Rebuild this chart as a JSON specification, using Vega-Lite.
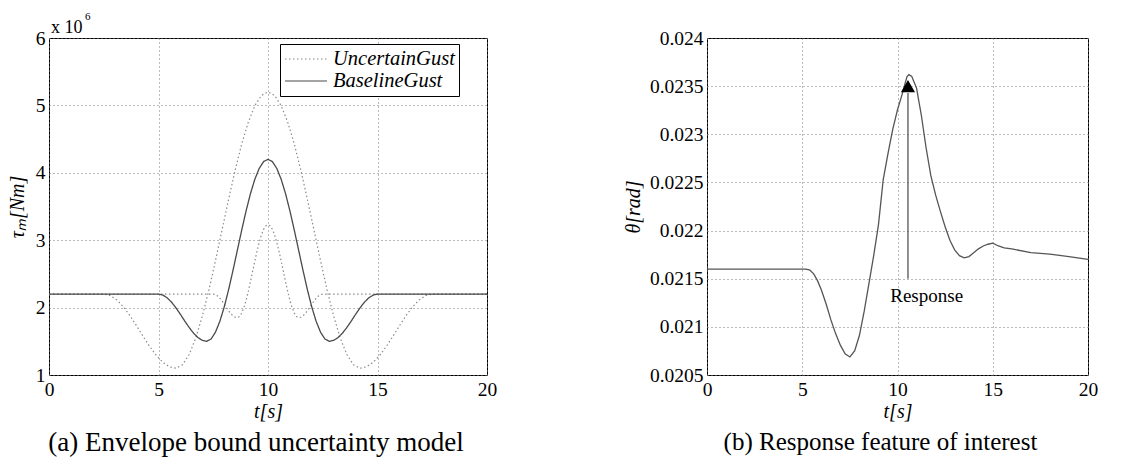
{
  "$schema": "https://vega.github.io/schema/vega-lite/v6.json",
  "background": "white",
  "padding": {"left": 6, "top": 10, "right": 5, "bottom": 5},
  "bounds": "flush",
  "spacing": 220,
  "config": {
    "font": "Liberation Serif",
    "view": {"stroke": "black", "strokeWidth": 1},
    "title": {"font": "Liberation Serif", "fontSize": 26, "fontWeight": "normal", "color": "black", "orient": "bottom", "anchor": "middle"}
  },
  "hconcat": [
    {
      "width": 438,
      "height": 337,
      "title": {"text": "(a) Envelope bound uncertainty model", "orient": "bottom", "offset": 8, "dx": -12, "font": "Liberation Serif", "fontSize": 27, "fontWeight": "normal"},
      "layer": [
        {
          "data": {"values": [
            {"t":0,"v":2.2,"s":"UncertainGust","c":"wide"},{"t":2.5,"v":2.2,"s":"UncertainGust","c":"wide"},{"t":2.8,"v":2.178,"s":"UncertainGust","c":"wide"},{"t":3.1,"v":2.113,"s":"UncertainGust","c":"wide"},{"t":3.4,"v":2.01,"s":"UncertainGust","c":"wide"},{"t":3.7,"v":1.879,"s":"UncertainGust","c":"wide"},{"t":4.0,"v":1.729,"s":"UncertainGust","c":"wide"},{"t":4.3,"v":1.571,"s":"UncertainGust","c":"wide"},{"t":4.6,"v":1.422,"s":"UncertainGust","c":"wide"},{"t":4.9,"v":1.29,"s":"UncertainGust","c":"wide"},{"t":5.2,"v":1.188,"s":"UncertainGust","c":"wide"},{"t":5.5,"v":1.122,"s":"UncertainGust","c":"wide"},{"t":5.8,"v":1.1,"s":"UncertainGust","c":"wide"},{"t":6.1,"v":1.152,"s":"UncertainGust","c":"wide"},{"t":6.4,"v":1.303,"s":"UncertainGust","c":"wide"},{"t":6.7,"v":1.548,"s":"UncertainGust","c":"wide"},{"t":7.0,"v":1.871,"s":"UncertainGust","c":"wide"},{"t":7.3,"v":2.26,"s":"UncertainGust","c":"wide"},{"t":7.6,"v":2.694,"s":"UncertainGust","c":"wide"},{"t":7.9,"v":3.15,"s":"UncertainGust","c":"wide"},{"t":8.2,"v":3.605,"s":"UncertainGust","c":"wide"},{"t":8.5,"v":4.04,"s":"UncertainGust","c":"wide"},{"t":8.8,"v":4.429,"s":"UncertainGust","c":"wide"},{"t":9.1,"v":4.752,"s":"UncertainGust","c":"wide"},{"t":9.4,"v":4.996,"s":"UncertainGust","c":"wide"},{"t":9.7,"v":5.148,"s":"UncertainGust","c":"wide"},{"t":10,"v":5.2,"s":"UncertainGust","c":"wide"},{"t":10.3,"v":5.148,"s":"UncertainGust","c":"wide"},{"t":10.6,"v":4.996,"s":"UncertainGust","c":"wide"},{"t":10.9,"v":4.752,"s":"UncertainGust","c":"wide"},{"t":11.2,"v":4.429,"s":"UncertainGust","c":"wide"},{"t":11.5,"v":4.04,"s":"UncertainGust","c":"wide"},{"t":11.8,"v":3.605,"s":"UncertainGust","c":"wide"},{"t":12.1,"v":3.15,"s":"UncertainGust","c":"wide"},{"t":12.4,"v":2.694,"s":"UncertainGust","c":"wide"},{"t":12.7,"v":2.26,"s":"UncertainGust","c":"wide"},{"t":13.0,"v":1.871,"s":"UncertainGust","c":"wide"},{"t":13.3,"v":1.548,"s":"UncertainGust","c":"wide"},{"t":13.6,"v":1.303,"s":"UncertainGust","c":"wide"},{"t":13.9,"v":1.152,"s":"UncertainGust","c":"wide"},{"t":14.2,"v":1.1,"s":"UncertainGust","c":"wide"},{"t":14.5,"v":1.122,"s":"UncertainGust","c":"wide"},{"t":14.8,"v":1.188,"s":"UncertainGust","c":"wide"},{"t":15.1,"v":1.29,"s":"UncertainGust","c":"wide"},{"t":15.4,"v":1.422,"s":"UncertainGust","c":"wide"},{"t":15.7,"v":1.571,"s":"UncertainGust","c":"wide"},{"t":16.0,"v":1.729,"s":"UncertainGust","c":"wide"},{"t":16.3,"v":1.879,"s":"UncertainGust","c":"wide"},{"t":16.6,"v":2.01,"s":"UncertainGust","c":"wide"},{"t":16.9,"v":2.113,"s":"UncertainGust","c":"wide"},{"t":17.2,"v":2.178,"s":"UncertainGust","c":"wide"},{"t":17.5,"v":2.2,"s":"UncertainGust","c":"wide"},{"t":20,"v":2.2,"s":"UncertainGust","c":"wide"},
            {"t":0,"v":2.2,"s":"UncertainGust","c":"narrow"},{"t":7.5,"v":2.2,"s":"UncertainGust","c":"narrow"},{"t":7.6,"v":2.193,"s":"UncertainGust","c":"narrow"},{"t":7.7,"v":2.172,"s":"UncertainGust","c":"narrow"},{"t":7.8,"v":2.14,"s":"UncertainGust","c":"narrow"},{"t":7.9,"v":2.098,"s":"UncertainGust","c":"narrow"},{"t":8.0,"v":2.05,"s":"UncertainGust","c":"narrow"},{"t":8.1,"v":2.0,"s":"UncertainGust","c":"narrow"},{"t":8.2,"v":1.953,"s":"UncertainGust","c":"narrow"},{"t":8.3,"v":1.911,"s":"UncertainGust","c":"narrow"},{"t":8.4,"v":1.878,"s":"UncertainGust","c":"narrow"},{"t":8.5,"v":1.857,"s":"UncertainGust","c":"narrow"},{"t":8.6,"v":1.85,"s":"UncertainGust","c":"narrow"},{"t":8.7,"v":1.867,"s":"UncertainGust","c":"narrow"},{"t":8.8,"v":1.918,"s":"UncertainGust","c":"narrow"},{"t":8.9,"v":2.001,"s":"UncertainGust","c":"narrow"},{"t":9.0,"v":2.11,"s":"UncertainGust","c":"narrow"},{"t":9.1,"v":2.24,"s":"UncertainGust","c":"narrow"},{"t":9.2,"v":2.387,"s":"UncertainGust","c":"narrow"},{"t":9.3,"v":2.54,"s":"UncertainGust","c":"narrow"},{"t":9.4,"v":2.693,"s":"UncertainGust","c":"narrow"},{"t":9.5,"v":2.839,"s":"UncertainGust","c":"narrow"},{"t":9.6,"v":2.97,"s":"UncertainGust","c":"narrow"},{"t":9.7,"v":3.079,"s":"UncertainGust","c":"narrow"},{"t":9.8,"v":3.161,"s":"UncertainGust","c":"narrow"},{"t":9.9,"v":3.213,"s":"UncertainGust","c":"narrow"},{"t":10,"v":3.23,"s":"UncertainGust","c":"narrow"},{"t":10.1,"v":3.213,"s":"UncertainGust","c":"narrow"},{"t":10.2,"v":3.161,"s":"UncertainGust","c":"narrow"},{"t":10.3,"v":3.079,"s":"UncertainGust","c":"narrow"},{"t":10.4,"v":2.97,"s":"UncertainGust","c":"narrow"},{"t":10.5,"v":2.839,"s":"UncertainGust","c":"narrow"},{"t":10.6,"v":2.693,"s":"UncertainGust","c":"narrow"},{"t":10.7,"v":2.54,"s":"UncertainGust","c":"narrow"},{"t":10.8,"v":2.387,"s":"UncertainGust","c":"narrow"},{"t":10.9,"v":2.24,"s":"UncertainGust","c":"narrow"},{"t":11.0,"v":2.11,"s":"UncertainGust","c":"narrow"},{"t":11.1,"v":2.001,"s":"UncertainGust","c":"narrow"},{"t":11.2,"v":1.918,"s":"UncertainGust","c":"narrow"},{"t":11.3,"v":1.867,"s":"UncertainGust","c":"narrow"},{"t":11.4,"v":1.85,"s":"UncertainGust","c":"narrow"},{"t":11.5,"v":1.857,"s":"UncertainGust","c":"narrow"},{"t":11.6,"v":1.878,"s":"UncertainGust","c":"narrow"},{"t":11.7,"v":1.911,"s":"UncertainGust","c":"narrow"},{"t":11.8,"v":1.953,"s":"UncertainGust","c":"narrow"},{"t":11.9,"v":2.0,"s":"UncertainGust","c":"narrow"},{"t":12.0,"v":2.05,"s":"UncertainGust","c":"narrow"},{"t":12.1,"v":2.098,"s":"UncertainGust","c":"narrow"},{"t":12.2,"v":2.14,"s":"UncertainGust","c":"narrow"},{"t":12.3,"v":2.172,"s":"UncertainGust","c":"narrow"},{"t":12.4,"v":2.193,"s":"UncertainGust","c":"narrow"},{"t":12.5,"v":2.2,"s":"UncertainGust","c":"narrow"},{"t":20,"v":2.2,"s":"UncertainGust","c":"narrow"}
          ]},
          "mark": {"type": "line", "strokeWidth": 1.2},
          "encoding": {
            "x": {"field": "t", "type": "quantitative", "scale": {"domain": [0, 20], "nice": false},
              "axis": {"values": [0, 5, 10, 15, 20], "format": "d", "title": "t[s]", "labelFlush": false, "labelFont": "Liberation Serif", "labelFontSize": 19.5, "labelColor": "black", "labelPadding": 5, "titleFont": "Liberation Serif", "titleFontSize": 20, "titleFontStyle": "italic", "titleFontWeight": "normal", "titleColor": "black", "titlePadding": 3, "domain": false, "ticks": false, "grid": true, "gridColor": "#777", "gridDash": [1, 3], "gridWidth": 1, "gridOpacity": 1}},
            "y": {"field": "v", "type": "quantitative", "scale": {"domain": [1, 6], "nice": false, "zero": false},
              "axis": {"values": [1, 2, 3, 4, 5, 6], "format": "d", "title": "τₘ[Nm]", "labelFont": "Liberation Serif", "labelFontSize": 19.5, "labelColor": "black", "labelPadding": 4, "titleFont": "Liberation Serif", "titleFontSize": 20, "titleFontStyle": "italic", "titleFontWeight": "normal", "titleColor": "black", "titlePadding": 8, "domain": false, "ticks": false, "grid": true, "gridColor": "#777", "gridDash": [1, 3], "gridWidth": 1, "gridOpacity": 1}},
            "detail": {"field": "c"},
            "color": {"field": "s", "type": "nominal", "scale": {"domain": ["UncertainGust", "BaselineGust"], "range": ["#8a8a8a", "#4a4a4a"]},
              "legend": {"orient": "none", "legendX": 231, "legendY": 6, "title": null, "strokeColor": "black", "fillColor": "white", "padding": 4, "symbolType": "M-1,0H3.2", "symbolSize": 400, "symbolStrokeWidth": 1.2, "labelFont": "Liberation Serif", "labelFontSize": 20.5, "labelFontStyle": "italic", "labelColor": "black", "labelOffset": 27, "rowPadding": -1}},
            "strokeDash": {"field": "s", "type": "nominal", "scale": {"domain": ["UncertainGust", "BaselineGust"], "range": [[1.5, 2.5], [1, 0]]}, "legend": null}
          }
        },
        {
          "data": {"values": [
            {"t":0,"v":2.2,"s":"BaselineGust"},{"t":5,"v":2.2,"s":"BaselineGust"},{"t":5.2,"v":2.186,"s":"BaselineGust"},{"t":5.4,"v":2.144,"s":"BaselineGust"},{"t":5.6,"v":2.079,"s":"BaselineGust"},{"t":5.8,"v":1.995,"s":"BaselineGust"},{"t":6.0,"v":1.9,"s":"BaselineGust"},{"t":6.2,"v":1.8,"s":"BaselineGust"},{"t":6.4,"v":1.705,"s":"BaselineGust"},{"t":6.6,"v":1.621,"s":"BaselineGust"},{"t":6.8,"v":1.556,"s":"BaselineGust"},{"t":7.0,"v":1.514,"s":"BaselineGust"},{"t":7.2,"v":1.5,"s":"BaselineGust"},{"t":7.4,"v":1.534,"s":"BaselineGust"},{"t":7.6,"v":1.634,"s":"BaselineGust"},{"t":7.8,"v":1.795,"s":"BaselineGust"},{"t":8.0,"v":2.008,"s":"BaselineGust"},{"t":8.2,"v":2.264,"s":"BaselineGust"},{"t":8.4,"v":2.55,"s":"BaselineGust"},{"t":8.6,"v":2.85,"s":"BaselineGust"},{"t":8.8,"v":3.15,"s":"BaselineGust"},{"t":9.0,"v":3.436,"s":"BaselineGust"},{"t":9.2,"v":3.692,"s":"BaselineGust"},{"t":9.4,"v":3.905,"s":"BaselineGust"},{"t":9.6,"v":4.066,"s":"BaselineGust"},{"t":9.8,"v":4.166,"s":"BaselineGust"},{"t":10,"v":4.2,"s":"BaselineGust"},{"t":10.2,"v":4.166,"s":"BaselineGust"},{"t":10.4,"v":4.066,"s":"BaselineGust"},{"t":10.6,"v":3.905,"s":"BaselineGust"},{"t":10.8,"v":3.692,"s":"BaselineGust"},{"t":11.0,"v":3.436,"s":"BaselineGust"},{"t":11.2,"v":3.15,"s":"BaselineGust"},{"t":11.4,"v":2.85,"s":"BaselineGust"},{"t":11.6,"v":2.55,"s":"BaselineGust"},{"t":11.8,"v":2.264,"s":"BaselineGust"},{"t":12.0,"v":2.008,"s":"BaselineGust"},{"t":12.2,"v":1.795,"s":"BaselineGust"},{"t":12.4,"v":1.634,"s":"BaselineGust"},{"t":12.6,"v":1.534,"s":"BaselineGust"},{"t":12.8,"v":1.5,"s":"BaselineGust"},{"t":13.0,"v":1.514,"s":"BaselineGust"},{"t":13.2,"v":1.556,"s":"BaselineGust"},{"t":13.4,"v":1.621,"s":"BaselineGust"},{"t":13.6,"v":1.705,"s":"BaselineGust"},{"t":13.8,"v":1.8,"s":"BaselineGust"},{"t":14.0,"v":1.9,"s":"BaselineGust"},{"t":14.2,"v":1.995,"s":"BaselineGust"},{"t":14.4,"v":2.079,"s":"BaselineGust"},{"t":14.6,"v":2.144,"s":"BaselineGust"},{"t":14.8,"v":2.186,"s":"BaselineGust"},{"t":15,"v":2.2,"s":"BaselineGust"},{"t":20,"v":2.2,"s":"BaselineGust"}
          ]},
          "mark": {"type": "line", "strokeWidth": 1.3},
          "encoding": {
            "x": {"field": "t", "type": "quantitative"},
            "y": {"field": "v", "type": "quantitative"},
            "color": {"field": "s", "type": "nominal"},
            "strokeDash": {"field": "s", "type": "nominal"}
          }
        },
        {
          "data": {"values": [{"t": 0, "v": 6, "label": "x 10"}]},
          "mark": {"type": "text", "align": "left", "baseline": "alphabetic", "dx": 2, "dy": -5, "fontSize": 18, "font": "Liberation Serif", "color": "black"},
          "encoding": {"x": {"field": "t", "type": "quantitative"}, "y": {"field": "v", "type": "quantitative"}, "text": {"field": "label"}}
        },
        {
          "data": {"values": [{"t": 0, "v": 6, "label": "6"}]},
          "mark": {"type": "text", "align": "left", "baseline": "alphabetic", "dx": 36, "dy": -18, "fontSize": 11, "font": "Liberation Serif", "color": "black"},
          "encoding": {"x": {"field": "t", "type": "quantitative"}, "y": {"field": "v", "type": "quantitative"}, "text": {"field": "label"}}
        }
      ]
    },
    {
      "width": 381,
      "height": 337,
      "title": {"text": "(b) Response feature of interest", "orient": "bottom", "offset": 8, "dx": -17, "font": "Liberation Serif", "fontSize": 25, "fontWeight": "normal"},
      "layer": [
        {
          "data": {"values": [
            {"t":0,"v":0.0216},{"t":5.2,"v":0.0216},{"t":5.4,"v":0.02159},{"t":5.6,"v":0.02155},{"t":5.8,"v":0.02148},{"t":6.0,"v":0.021386},{"t":6.25,"v":0.02124},{"t":6.5,"v":0.021075},{"t":6.75,"v":0.02093},{"t":7.0,"v":0.02081},{"t":7.25,"v":0.02072},{"t":7.5,"v":0.020687},{"t":7.75,"v":0.02075},{"t":8.0,"v":0.02091},{"t":8.25,"v":0.02116},{"t":8.5,"v":0.02145},{"t":8.75,"v":0.02174},{"t":9.0,"v":0.02206},{"t":9.25,"v":0.02253},{"t":9.5,"v":0.0228},{"t":9.75,"v":0.02305},{"t":10.0,"v":0.023255},{"t":10.25,"v":0.02342},{"t":10.4,"v":0.02353},{"t":10.5,"v":0.0236},{"t":10.6,"v":0.023619},{"t":10.75,"v":0.0236},{"t":11.0,"v":0.02348},{"t":11.25,"v":0.0232},{"t":11.5,"v":0.02286},{"t":11.75,"v":0.02257},{"t":12.0,"v":0.02237},{"t":12.25,"v":0.0222},{"t":12.5,"v":0.02204},{"t":12.75,"v":0.0219},{"t":13.0,"v":0.0218},{"t":13.25,"v":0.02174},{"t":13.5,"v":0.021716},{"t":13.75,"v":0.02173},{"t":14.0,"v":0.02177},{"t":14.25,"v":0.02181},{"t":14.5,"v":0.02184},{"t":14.75,"v":0.021858},{"t":15.0,"v":0.02187},{"t":15.3,"v":0.02184},{"t":15.6,"v":0.02182},{"t":16.0,"v":0.02181},{"t":17.0,"v":0.02177},{"t":18.0,"v":0.021755},{"t":19.0,"v":0.02173},{"t":20.0,"v":0.0217}
          ]},
          "mark": {"type": "line", "strokeWidth": 1.3, "color": "#555"},
          "encoding": {
            "x": {"field": "t", "type": "quantitative", "scale": {"domain": [0, 20], "nice": false},
              "axis": {"values": [0, 5, 10, 15, 20], "format": "d", "title": "t[s]", "labelFlush": false, "labelFont": "Liberation Serif", "labelFontSize": 19.5, "labelColor": "black", "labelPadding": 5, "titleFont": "Liberation Serif", "titleFontSize": 20, "titleFontStyle": "italic", "titleFontWeight": "normal", "titleColor": "black", "titlePadding": 3, "domain": false, "ticks": false, "grid": true, "gridColor": "#777", "gridDash": [1, 3], "gridWidth": 1, "gridOpacity": 1}},
            "y": {"field": "v", "type": "quantitative", "scale": {"domain": [0.0205, 0.024], "nice": false, "zero": false},
              "axis": {"values": [0.0205, 0.021, 0.0215, 0.022, 0.0225, 0.023, 0.0235, 0.024], "format": "~g", "title": "θ[rad]", "labelFont": "Liberation Serif", "labelFontSize": 19.5, "labelColor": "black", "labelPadding": 4, "titleFont": "Liberation Serif", "titleFontSize": 20, "titleFontStyle": "italic", "titleFontWeight": "normal", "titleColor": "black", "titlePadding": 6, "domain": false, "ticks": false, "grid": true, "gridColor": "#777", "gridDash": [1, 3], "gridWidth": 1, "gridOpacity": 1}}
          }
        },
        {
          "data": {"values": [{"t": 10.55, "v0": 0.0215, "v1": 0.02343}]},
          "mark": {"type": "rule", "strokeWidth": 1.3, "color": "#555"},
          "encoding": {"x": {"field": "t", "type": "quantitative"}, "y": {"field": "v0", "type": "quantitative"}, "y2": {"field": "v1"}}
        },
        {
          "data": {"values": [{"t": 10.55, "v": 0.0235}]},
          "mark": {"type": "point", "shape": "triangle-up", "filled": true, "size": 200, "color": "black", "opacity": 1},
          "encoding": {"x": {"field": "t", "type": "quantitative"}, "y": {"field": "v", "type": "quantitative"}}
        },
        {
          "data": {"values": [{"t": 11.53, "v": 0.02132, "label": "Response"}]},
          "mark": {"type": "text", "fontSize": 19, "font": "Liberation Serif", "color": "black", "align": "center", "baseline": "middle"},
          "encoding": {"x": {"field": "t", "type": "quantitative"}, "y": {"field": "v", "type": "quantitative"}, "text": {"field": "label"}}
        }
      ]
    }
  ]
}
